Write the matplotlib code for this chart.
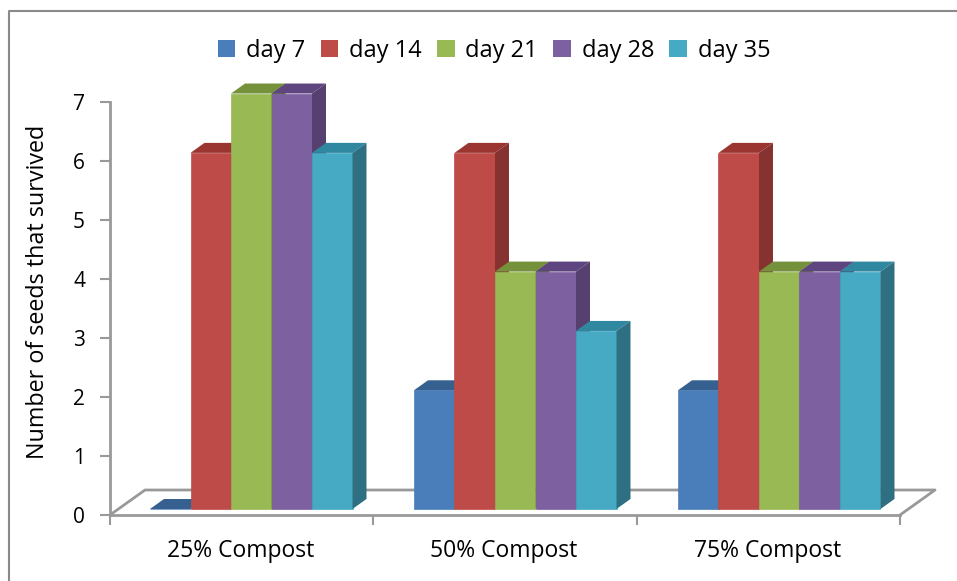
import matplotlib
matplotlib.use("Agg")
import matplotlib.pyplot as plt
from matplotlib.lines import Line2D
from matplotlib.patches import Polygon, Rectangle

groups = ["25% Compost", "50% Compost", "75% Compost"]
days = ["day 7", "day 14", "day 21", "day 28", "day 35"]
day7 = [0, 2, 2]
day14 = [6, 6, 6]
day21 = [7, 4, 4]
day28 = [7, 4, 4]
day35 = [6, 3, 4]
series = [day7, day14, day21, day28, day35]

front = ["#4a7ebb", "#be4b48", "#98b954", "#7d60a0", "#46aac5"]
top = ["#36608f", "#9a3532", "#76913c", "#5f4580", "#2f87a0"]
side = ["#36608f", "#863230", "#6b8338", "#56406f", "#2f6f82"]
grey = "#999999"

W, H = 957, 581
plt.rcParams["font.family"] = ["Open Sans", "DejaVu Sans"]
fig = plt.figure(figsize=(W / 100, H / 100), dpi=100)

# axes box in pixels: x 110..900, y 0 at 515, 7 at 102
ax = fig.add_axes([110 / W, 1 - 515 / H, 790 / W, 413 / H])
ax.set_xlim(0, 3)
ax.set_ylim(0, 7)
ax.patch.set_alpha(0)

px = 3 / 790
py = 7 / 413
dx, dy = 14 * px, 10 * py   # 3d depth of the bars
fdx, fdy = 35 * px, 25 * py  # depth of the floor
base = 6 * py
scale = 1.006
bar_w = 40.5 * px
first = 40 * px
gap = 264 * px

# floor outline
ax.plot([0, fdx, 3 + fdx, 3], [0, fdy, fdy, 0], color=grey, lw=2, clip_on=False, zorder=1)

for g in range(len(groups)):
    for s in range(len(days)):
        v = series[s][g]
        x0 = first + gap * g + bar_w * s
        y1 = base + v * scale
        z = 3 + g * 10 + s
        ax.bar(x0, v * scale, bar_w, bottom=base, align="edge", color=front[s], ec=front[s], lw=0.5, zorder=z, clip_on=False)
        ax.add_patch(Polygon([[x0, y1], [x0 + dx, y1 + dy], [x0 + bar_w + dx, y1 + dy], [x0 + bar_w, y1]],
                             closed=True, fc=top[s], ec="none", zorder=z, clip_on=False))
        ax.add_patch(Polygon([[x0 + bar_w, base], [x0 + bar_w + dx, base + dy], [x0 + bar_w + dx, y1 + dy], [x0 + bar_w, y1]],
                             closed=True, fc=side[s], ec="none", zorder=z, clip_on=False))

for sp in ["top", "right"]:
    ax.spines[sp].set_visible(False)
for sp in ["left", "bottom"]:
    ax.spines[sp].set_color(grey)
    ax.spines[sp].set_linewidth(2)
    ax.spines[sp].set_zorder(2)

ax.set_yticks(range(8))
ax.set_xticks([0, 1, 2, 3])
ax.set_xticklabels([])
ax.tick_params(axis="both", color=grey, width=1.5, length=7)
ax.tick_params(axis="y", labelsize=15, pad=11, labelcolor="black")
for i, name in enumerate(groups):
    ax.text(i + 0.5 - 1 * px, -36 * py, name, ha="center", va="center", fontsize=16.5, color="black")
fig.text(38.5 / W, 1 - 292 / H, "Number of seeds that survived", rotation=90, ha="center", va="center", fontsize=16.8)

# legend, one swatch and label per series
handles = [Rectangle((0, 0), 1, 1, fc=c, ec="none") for c in front]
fig.legend(handles, days, loc="center", bbox_to_anchor=(494 / W, 1 - 51 / H), ncol=5, frameon=False,
           fontsize=17, handlelength=0.75, handleheight=0.75, handletextpad=0.45, columnspacing=0.65)

# only the top and left edges of the chart frame are in the crop
fig.add_artist(Line2D([8.5 / W, 8.5 / W, 1], [0, 1 - 10.5 / H, 1 - 10.5 / H], color="#8a8a8a", lw=1.5))
fig.savefig("out.png", dpi=100)
